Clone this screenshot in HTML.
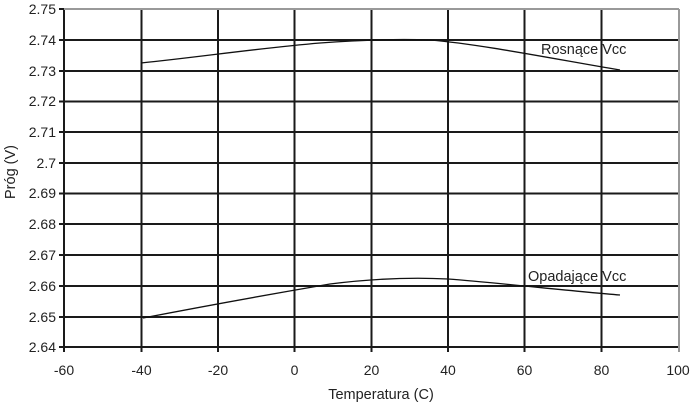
<!DOCTYPE html><html><head><style>body{margin:0;background:#fff}svg{display:block}text{font-family:"Liberation Sans",sans-serif;font-size:14px;fill:#222}</style></head><body>
<svg width="693" height="402" viewBox="0 0 693 402">
<g stroke="#1a1a1a" stroke-width="2">
<line x1="64" y1="40" x2="678" y2="40"/><line x1="64" y1="71" x2="678" y2="71"/><line x1="64" y1="101.5" x2="678" y2="101.5"/><line x1="64" y1="132" x2="678" y2="132"/><line x1="64" y1="163" x2="678" y2="163"/><line x1="64" y1="193.5" x2="678" y2="193.5"/><line x1="64" y1="224" x2="678" y2="224"/><line x1="64" y1="255" x2="678" y2="255"/><line x1="64" y1="286" x2="678" y2="286"/><line x1="64" y1="317" x2="678" y2="317"/><line x1="64" y1="347" x2="678" y2="347"/>
<line x1="141.5" y1="9" x2="141.5" y2="352"/><line x1="218" y1="9" x2="218" y2="352"/><line x1="294.5" y1="9" x2="294.5" y2="352"/><line x1="371.5" y1="9" x2="371.5" y2="352"/><line x1="448" y1="9" x2="448" y2="352"/><line x1="524.5" y1="9" x2="524.5" y2="352"/><line x1="601.5" y1="9" x2="601.5" y2="352"/>
<line x1="64" y1="9" x2="64" y2="352"/>
<line x1="59" y1="9" x2="64" y2="9"/><line x1="59" y1="40" x2="64" y2="40"/><line x1="59" y1="71" x2="64" y2="71"/><line x1="59" y1="101.5" x2="64" y2="101.5"/><line x1="59" y1="132" x2="64" y2="132"/><line x1="59" y1="163" x2="64" y2="163"/><line x1="59" y1="193.5" x2="64" y2="193.5"/><line x1="59" y1="224" x2="64" y2="224"/><line x1="59" y1="255" x2="64" y2="255"/><line x1="59" y1="286" x2="64" y2="286"/><line x1="59" y1="317" x2="64" y2="317"/><line x1="59" y1="347" x2="64" y2="347"/>
</g>
<g stroke="#999" stroke-width="2"><line x1="64" y1="9" x2="679" y2="9"/><line x1="679" y1="9" x2="679" y2="352"/></g>
<g fill="none" stroke="#111" stroke-width="1.3">
<path d="M141,63 C200,57 260,48 320,43 C360,40 400,39 430,40 C480,44 560,60 620,70"/>
<path d="M143,318 C200,307 260,296 330,284 C370,279 410,277 448,279 C500,283 570,291 620,295"/>
</g>
<text x="541" y="54" style="font-size:14.5px">Rosnące Vcc</text>
<text x="528" y="281" style="font-size:14.5px">Opadające Vcc</text>
<g text-anchor="end"><text x="56" y="14">2.75</text><text x="56" y="45">2.74</text><text x="56" y="76">2.73</text><text x="56" y="106">2.72</text><text x="56" y="137">2.71</text><text x="56" y="168">2.7</text><text x="56" y="198">2.69</text><text x="56" y="229">2.68</text><text x="56" y="260">2.67</text><text x="56" y="291">2.66</text><text x="56" y="322">2.65</text><text x="56" y="352">2.64</text></g>
<g text-anchor="middle"><text x="64" y="375">-60</text><text x="141.5" y="375">-40</text><text x="218" y="375">-20</text><text x="294.5" y="375">0</text><text x="371.5" y="375">20</text><text x="448" y="375">40</text><text x="524.5" y="375">60</text><text x="601.5" y="375">80</text><text x="678" y="375">100</text>
<text x="381" y="399" style="font-size:14.5px">Temperatura (C)</text>
<text transform="translate(15,172) rotate(-90)" style="font-size:14.5px">Próg (V)</text></g>
</svg></body></html>
